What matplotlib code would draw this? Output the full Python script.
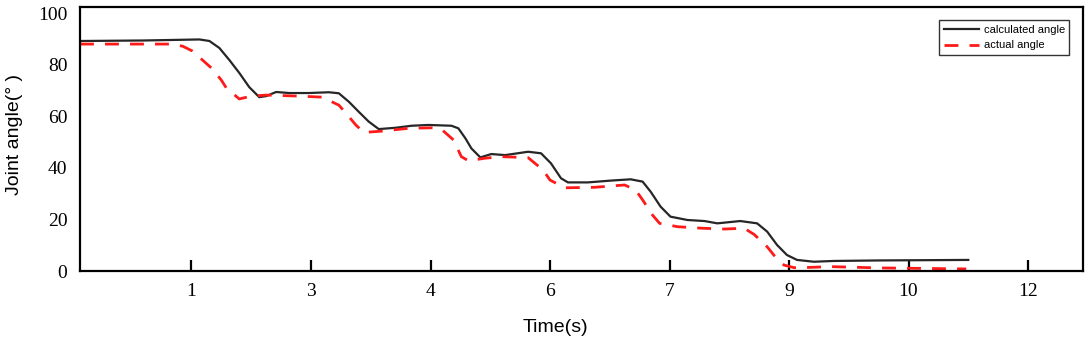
import numpy as np
import matplotlib.pyplot as plt

# tick slots along the time axis (equally spaced) and their printed labels
tick_pos = [1, 2, 3, 4, 5, 6, 7, 8]
tick_labels = ['1', '3', '4', '6', '7', '9', '10', '12']

# calculated angle (x in tick-slot units, y in degrees)
calc_x = [0.067, 0.6, 1.067, 1.15, 1.233, 1.317, 1.40, 1.483, 1.567, 1.625,
          1.708, 1.817, 1.983, 2.15, 2.233, 2.317, 2.40, 2.483, 2.567, 2.706,
          2.842, 2.983, 3.175, 3.233, 3.292, 3.342, 3.417, 3.508, 3.625, 3.817,
          3.925, 4.008, 4.092, 4.15, 4.317, 4.508, 4.675, 4.775, 4.842, 4.925,
          5.008, 5.15, 5.292, 5.40, 5.592, 5.733, 5.817, 5.90, 5.983, 6.067,
          6.208, 6.375, 6.758, 7.5]
calc_y = [89.3, 89.5, 89.9, 89.3, 86.6, 81.9, 76.9, 71.4, 67.5, 67.9,
          69.5, 69.1, 69.1, 69.4, 69.0, 65.7, 61.8, 58.0, 55.1, 55.6,
          56.4, 56.7, 56.4, 55.4, 51.5, 47.6, 44.1, 45.4, 45.0, 46.3,
          45.7, 41.8, 36.0, 34.4, 34.4, 35.1, 35.6, 34.7, 30.8, 25.0,
          21.1, 19.8, 19.4, 18.5, 19.4, 18.5, 15.3, 10.1, 6.2, 4.3,
          3.6, 3.9, 4.1, 4.3]

# actual angle
act_x = [0.067, 0.817, 0.925, 1.008, 1.092, 1.167, 1.25, 1.292, 1.40, 1.50,
         1.625, 1.90, 2.092, 2.233, 2.292, 2.375, 2.442, 2.592, 2.817, 3.008,
         3.092, 3.192, 3.258, 3.317, 3.458, 3.592, 3.817, 3.942, 4.0, 4.125,
         4.375, 4.625, 4.717, 4.775, 4.858, 4.917, 5.067, 5.275, 5.458, 5.625,
         5.708, 5.817, 5.883, 5.958, 6.042, 6.175, 6.342, 6.758, 7.483]
act_y = [88.1, 88.1, 87.3, 85.4, 81.9, 78.8, 74.1, 71.0, 66.8, 67.9,
         68.3, 67.9, 67.5, 64.4, 61.3, 56.7, 53.8, 54.3, 55.4, 55.6,
         55.0, 50.9, 44.4, 42.8, 43.8, 44.4, 44.0, 39.2, 35.3, 32.3,
         32.5, 33.4, 31.4, 27.6, 21.7, 18.5, 17.2, 16.6, 16.3, 16.6,
         14.2, 9.4, 5.6, 2.3, 1.3, 1.4, 1.7, 1.2, 0.8]

fig = plt.figure(figsize=(10.92, 3.47), dpi=100)
ax = fig.add_axes([80/1092, 76/347, 1003/1092, 264/347])

ax.plot(calc_x, calc_y, color='#262626', lw=1.6, solid_joinstyle='round',
        label='calculated angle')
ax.plot(act_x, act_y, color='#ff1a1a', lw=2.0, dashes=(5, 4),
        label='actual angle')

ax.set_xlim(0.067, 8.46)
ax.set_ylim(0, 102.5)
ax.set_xticks(tick_pos)
ax.set_xticklabels(tick_labels)
ax.set_yticks([0, 20, 40, 60, 80, 100])

for s in ax.spines.values():
    s.set_linewidth(1.6)
ax.tick_params(axis='x', direction='in', length=8, width=1.6, pad=9,
               labelsize=14, labelfontfamily='Liberation Serif')
ax.tick_params(axis='y', length=0, pad=9, labelsize=14,
               labelfontfamily='Liberation Serif')

fig.text(555/1092, 1 - 328/347, 'Time(s)', ha='center', va='center',
         fontsize=14, family='Liberation Sans')
fig.text(15/1092, 1 - 135/347, 'Joint angle(° )', ha='center', va='center',
         rotation=90, fontsize=14, family='Liberation Sans')

leg = ax.legend(loc='upper right', bbox_to_anchor=(0.992, 0.97),
                prop={'family': 'Liberation Sans', 'size': 8},
                fancybox=False, edgecolor='#333333', framealpha=1,
                handlelength=3.2, borderpad=0.4, labelspacing=0.5,
                handletextpad=0.4)
leg.get_frame().set_linewidth(1.0)

fig.savefig('out.png', dpi=100)
